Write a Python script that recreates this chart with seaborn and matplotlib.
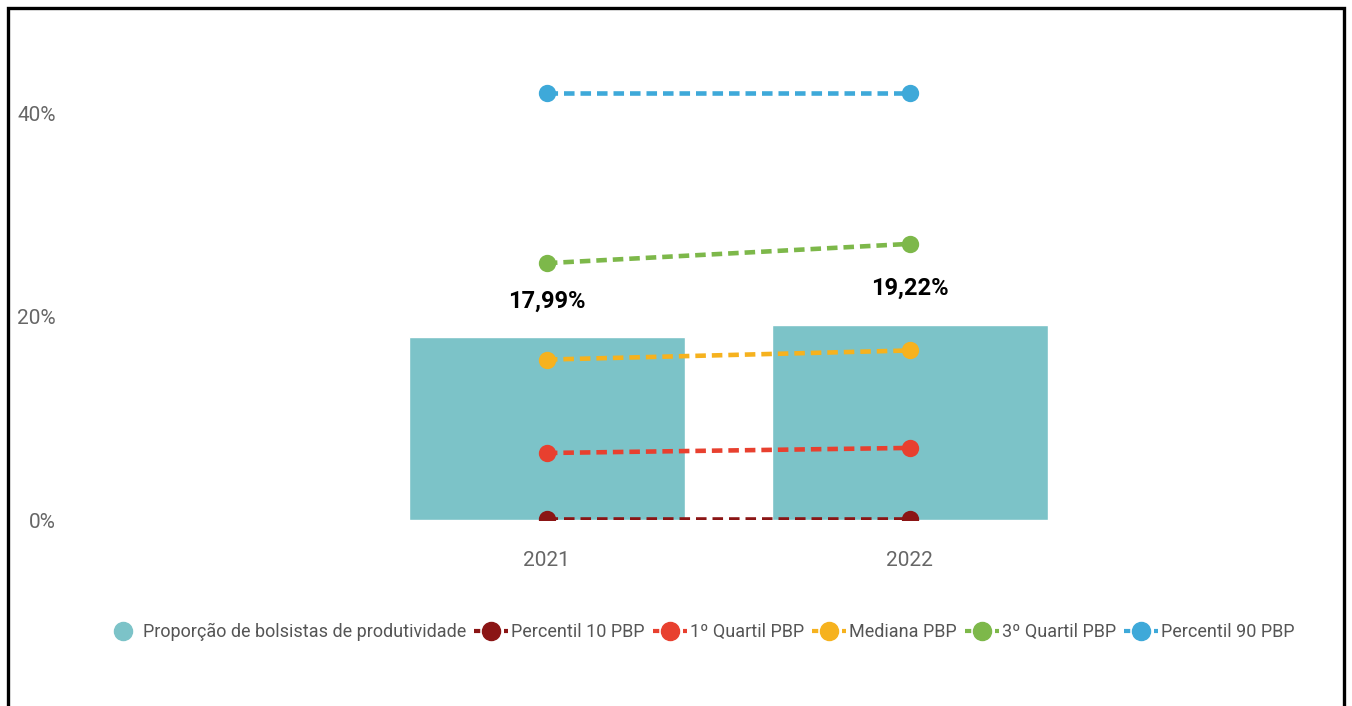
import matplotlib
matplotlib.use("Agg")
import matplotlib.pyplot as plt
from matplotlib.lines import Line2D
from matplotlib.patches import Rectangle
import seaborn as sns
import pandas as pd

# --- data -------------------------------------------------------------
anos = ["2021", "2022"]
proporcao = [17.99, 19.22]          # Proporção de bolsistas de produtividade (%)
percentil_10 = [0.1, 0.1]
quartil_1 = [6.6, 7.1]
mediana = [15.8, 16.7]
quartil_3 = [25.3, 27.2]
percentil_90 = [42.1, 42.1]

series_nomes = ["Percentil 10 PBP", "1º Quartil PBP", "Mediana PBP",
                "3º Quartil PBP", "Percentil 90 PBP"]
series_valores = [percentil_10, quartil_1, mediana, quartil_3, percentil_90]
series_cores = ["#8B1515", "#E8402F", "#F6B21E", "#7DB84A", "#3EA9D9"]
cor_barra = "#7CC3C8"
rotulo_barra = "Proporção de bolsistas de produtividade"
yticks = [0, 20, 40]

# --- style ------------------------------------------------------------
sns.set_theme(style="white")
plt.rcParams["font.family"] = ["Roboto", "DejaVu Sans"]

fig = plt.figure(figsize=(13.52, 7.06), dpi=100)
ax = fig.add_axes([75 / 1352, 1 - 520 / 706, (1340 - 75) / 1352, (520 - 53) / 706])

df_bar = pd.DataFrame({"ano": anos, "valor": proporcao})
sns.barplot(data=df_bar, x="ano", y="valor", color=cor_barra, saturation=1,
            width=0.76, ax=ax, zorder=1)

dash = (0, (2.3, 1.3))
for nome, vals, cor in zip(series_nomes, series_valores, series_cores):
    sns.pointplot(x=anos, y=vals, color=cor, errorbar=None, ax=ax,
                  marker="o", markersize=10, linestyle=dash, linewidth=3.3,
                  zorder=3)

# value labels above bars
ax.bar_label(ax.containers[0],
             labels=[f"{v:.2f}%".replace(".", ",") for v in proporcao],
             padding=18, fontsize=17, fontweight="bold", color="black")

ax.set_ylim(0, 46)
ax.set_xlim(-1.30, 2.185)
ax.set_yticks(yticks)
ax.set_yticklabels([f"{t}%" for t in yticks])
ax.set_xlabel("")
ax.set_ylabel("")
ax.tick_params(axis="y", length=0, pad=14, labelsize=15, labelcolor="#666666")
ax.tick_params(axis="x", length=0, pad=22, labelsize=15, labelcolor="#666666")
for s in ax.spines.values():
    s.set_visible(False)
ax.grid(False)

# legend
handles = [Line2D([], [], linestyle="none", marker="o", markersize=13,
                  color=cor_barra)]
labels = [rotulo_barra]
for nome, cor in zip(series_nomes, series_cores):
    handles.append(Line2D([], [], color=cor, linestyle=(0, (1.5, 0.9)),
                          linewidth=3, marker="o", markersize=13))
    labels.append(nome)
leg = fig.legend(handles, labels, loc="center", bbox_to_anchor=(700 / 1352, 1 - 632 / 706),
                 ncol=6, frameon=False, fontsize=13, handlelength=1.9,
                 handletextpad=0.15, columnspacing=0.45, labelcolor="#555555")

# outer frame
fig.patches.append(Rectangle((8 / 1352, -0.05), (1344 - 8) / 1352, 1.05 - 8 / 706,
                             transform=fig.transFigure, fill=False,
                             edgecolor="black", linewidth=2.4))

fig.savefig("out.png", dpi=100)
